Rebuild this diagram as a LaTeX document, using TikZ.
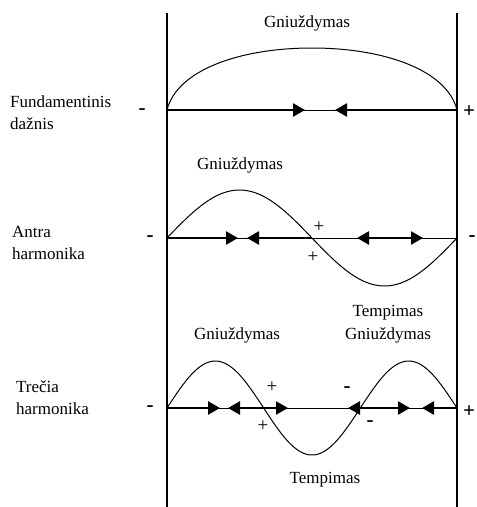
\documentclass[tikz,border=0pt]{standalone}
\usepackage{fontspec}
\setmainfont{Liberation Serif}
\usetikzlibrary{arrows.meta}
\begin{document}
\begin{tikzpicture}[x=1pt,y=-1pt,
  lbl/.style={font=\fontsize{17}{22}\selectfont, inner sep=0pt},
  sgn/.style={font=\fontsize{19}{20}\selectfont, inner sep=0pt},
  bsgn/.style={font=\fontsize{21}{20}\selectfont\bfseries, inner sep=0pt},
  wall/.style={line width=2.2pt},
  thinline/.style={line width=0.9pt},
  thickline/.style={line width=2.5pt},
  wave/.style={line width=1pt},
  >={Triangle[length=12pt,width=13pt]}]
\useasboundingbox (0,0) rectangle (477,507);
% walls
\coordinate (WLt) at (167,13); \coordinate (WLb) at (167,507);
\coordinate (WRt) at (457,13); \coordinate (WRb) at (457,507);
\draw[wall] (WLt) -- (WLb);
\draw[wall] (WRt) -- (WRb);

% ---------- Row 1 ----------
\coordinate (L1) at (167,110); \coordinate (R1) at (457,110);
\coordinate (A1) at (305,110); \coordinate (B1) at (335,110);
\draw[wave] (L1) .. controls (177,70) and (240,48) .. (312,48)
            .. controls (384,48) and (447,70) .. (R1);
\draw[thinline] (L1) -- (R1);
\draw[thickline,->] (L1) -- (A1);
\draw[thickline,->] (R1) -- (B1);
\node[lbl] (g1) at (307,23) {Gniuždymas};
\node[lbl,anchor=west,align=left] (n1) at (10,113) {Fundamentinis\\dažnis};
\node[bsgn] (s1a) at (142,112) {-};
\node[bsgn] (s1b) at (469,112) {+};

% ---------- Row 2 ----------
\coordinate (L2) at (167,238); \coordinate (R2) at (457,238);
\coordinate (A2) at (238,238); \coordinate (B2) at (247,238);
\coordinate (Z2) at (312,238);
\coordinate (C2) at (357,238); \coordinate (D2) at (423,238);
\draw[wave] plot[domain=0:290,samples=120] ({167+\x},{238-48*sin(1.241379*\x)});
\draw[thinline] (L2) -- (R2);
\draw[thickline,->] (L2) -- (A2);
\draw[thickline,->] (Z2) -- (B2);
\draw[thickline,<->] (C2) -- (D2);
\node[lbl] (g2) at (240,165) {Gniuždymas};
\node[lbl,anchor=west,align=left] (n2) at (12,243) {Antra\\harmonika};
\node[bsgn] (s2a) at (150,239) {-};
\node[bsgn] (s2b) at (472,239) {-};
\node[sgn] (s2c) at (319,227) {+};
\node[sgn] (s2d) at (313,257) {+};

% ---------- Row 3 ----------
\coordinate (L3) at (167,408); \coordinate (R3) at (457,408);
\coordinate (A3) at (220,408); \coordinate (B3) at (228,408);
\coordinate (C3) at (288,408); \coordinate (D3) at (348,408);
\coordinate (E3) at (410,408); \coordinate (F3) at (422,408);
\draw[wave] plot[domain=0:290,samples=160] ({167+\x},{408-47*sin(1.862069*\x)});
\draw[thinline] (L3) -- (R3);
\draw[thickline,->] (L3) -- (A3);
\draw[thickline,<->] (B3) -- (C3);
\draw[thickline,<->] (D3) -- (E3);
\draw[thickline,->] (R3) -- (F3);
\node[lbl] (g3) at (237,335) {Gniuždymas};
\node[lbl] (t3) at (388,313) {Tempimas};
\node[lbl] (g4) at (388,335) {Gniuždymas};
\node[lbl] (t4) at (325,480) {Tempimas};
\node[lbl,anchor=west,align=left] (n3) at (16,398) {Trečia\\harmonika};
\node[bsgn] (s3a) at (150,409) {-};
\node[bsgn] (s3b) at (469,412) {+};
\node[sgn] (s3c) at (272,387) {+};
\node[sgn] (s3d) at (263,426) {+};
\node[bsgn] (s3e) at (347,390) {-};
\node[bsgn] (s3f) at (370,424) {-};
\end{tikzpicture}
\end{document}
